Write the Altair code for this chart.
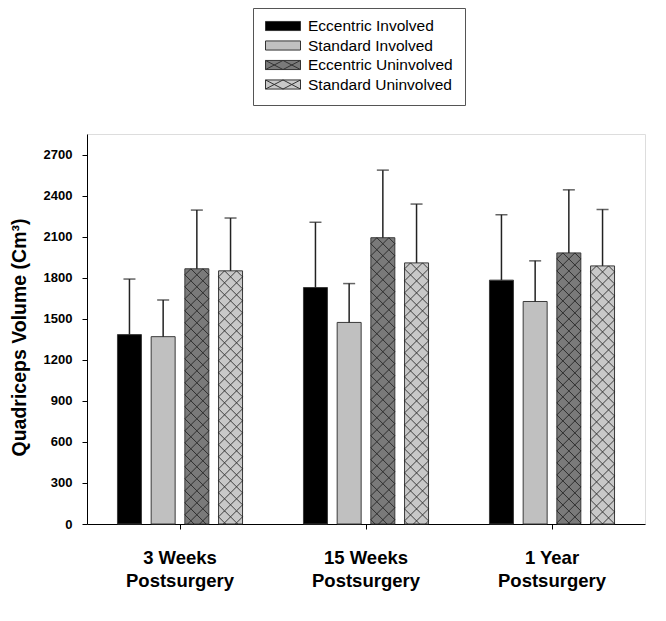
import altair as alt
import pandas as pd

# ---------------- data ----------------
groups = ["3 Weeks|Postsurgery", "15 Weeks|Postsurgery", "1 Year|Postsurgery"]
series = ["Eccentric Involved", "Standard Involved", "Eccentric Uninvolved", "Standard Uninvolved"]

eccentric_involved = [1384, 1728, 1782]
standard_involved = [1369, 1473, 1626]
eccentric_uninvolved = [1865, 2092, 1981]
standard_uninvolved = [1850, 1908, 1886]

eccentric_involved_sd = [406, 477, 478]
standard_involved_sd = [268, 284, 297]
eccentric_uninvolved_sd = [429, 494, 461]
standard_uninvolved_sd = [386, 430, 413]

y_ticks = [0, 300, 600, 900, 1200, 1500, 1800, 2100, 2400, 2700]
hatched = ["Eccentric Uninvolved", "Standard Uninvolved"]

# ---------------- styling ----------------
colors = ["#000000", "#c0c0c0", "#7a7a7a", "#c8c8c8"]
FONT = "Liberation Sans"
W, H = 558, 390
Y_MAX = 2850
TILE = 12  # hatch cell size in px

means = [eccentric_involved, standard_involved, eccentric_uninvolved, standard_uninvolved]
sds = [eccentric_involved_sd, standard_involved_sd, eccentric_uninvolved_sd, standard_uninvolved_sd]

rows = []
for s, m, e in zip(series, means, sds):
    for g, mv, ev in zip(groups, m, e):
        rows.append({"group": g, "series": s, "mean": mv, "hi": mv + ev})
df = pd.DataFrame(rows)

# hatch tiles derived from the bar heights (one row of two diamonds every TILE px)
upp = Y_MAX / H
tiles = []
for r in rows:
    if r["series"] not in hatched:
        continue
    top_px = r["mean"] / upp
    k = 0
    while True:
        c = top_px - TILE / 2 - TILE * k
        if c + TILE / 2 <= 0:
            break
        tiles.append({"group": r["group"], "series": r["series"], "yc": c * upp})
        k += 1
tiles_df = pd.DataFrame(tiles)

legend_df = pd.DataFrame({"series": series})

DIAMONDS = "M-1,0L-0.5,-0.5L0,0L-0.5,0.5Z M0,0L0.5,-0.5L1,0L0.5,0.5Z"
RECT = "M-1,-0.26H1V0.26H-1Z"
RECT_X = (RECT + " M-1,-0.26L0,0.26 M-1,0.26L0,-0.26 M0,-0.26L1,0.26 M0,0.26L1,-0.26")
shapes = [RECT, RECT, RECT_X, RECT_X]

x_enc = alt.X(
    "group:N", sort=groups,
    scale=alt.Scale(paddingInner=0, paddingOuter=0),
    axis=alt.Axis(
        title=None, labelExpr="split(datum.label, '|')", labelAngle=0,
        labelFont=FONT, labelFontWeight="bold", labelFontSize=18.5,
        labelLineHeight=23, labelPadding=19, labelColor="black",
        tickSize=5, tickColor="black", domainColor="black",
        labelBaseline="top",
    ),
)
xoff = alt.XOffset("series:N", sort=series,
                   scale=alt.Scale(domain=series, paddingInner=0.288, paddingOuter=0.904))
y_scale = alt.Scale(domain=[0, Y_MAX], nice=False, zero=True)
y_axis = alt.Axis(
    values=y_ticks, format="d", grid=False, title="Quadriceps Volume (Cm³)",
    titleFont=FONT, titleFontSize=19.5, titleFontWeight="bold", titleColor="black",
    titlePadding=14, titleY=203,
    labelFont=FONT, labelFontSize=13, labelFontWeight="bold", labelColor="black",
    labelPadding=10, tickSize=5, tickColor="black", domainColor="black",
)
color_scale = alt.Scale(domain=series, range=colors)

leg = dict(
    title=None, orient="none", legendX=166, legendY=-126,
    padding=12, strokeColor="#555555", fillColor="white",
    labelFont=FONT, labelFontSize=15.5, labelColor="black",
    symbolSize=1225, symbolOpacity=1, symbolStrokeWidth=1,
    clipHeight=12, rowPadding=3.5, labelOffset=7,
)

legend_layer = alt.Chart(legend_df).mark_point(
    filled=True, opacity=0, stroke="#333333", strokeWidth=1, size=1225
).encode(
    color=alt.Color("series:N", scale=color_scale, sort=series, legend=alt.Legend(**leg)),
    shape=alt.Shape("series:N", scale=alt.Scale(domain=series, range=shapes), sort=series,
                    legend=alt.Legend(**leg)),
)

bars = alt.Chart(df).mark_bar(stroke="#3a3a3a", strokeWidth=1).encode(
    x=x_enc, xOffset=xoff,
    y=alt.Y("mean:Q", scale=y_scale, axis=y_axis),
    color=alt.Color("series:N", scale=color_scale, legend=None),
)

hatch = alt.Chart(tiles_df).mark_point(
    shape=DIAMONDS, size=TILE * TILE * 4, filled=False, stroke="#1a1a1a",
    strokeWidth=0.8, opacity=1, clip=True
).encode(
    x=alt.X("group:N", sort=groups), xOffset=xoff,
    y=alt.Y("yc:Q", scale=y_scale),
)

err = alt.Chart(df).mark_rule(color="#222222", strokeWidth=1.5).encode(
    x=alt.X("group:N", sort=groups), xOffset=xoff,
    y=alt.Y("mean:Q", scale=y_scale), y2="hi:Q",
)
caps = alt.Chart(df).mark_tick(color="#222222", thickness=1.5, size=12, orient="horizontal").encode(
    x=alt.X("group:N", sort=groups), xOffset=xoff,
    y=alt.Y("hi:Q", scale=y_scale),
)

chart = alt.layer(legend_layer, bars, hatch, err, caps).properties(
    width=W, height=H,
    autosize=alt.AutoSizeParams(type="none"),
    padding={"left": 79, "top": 126, "right": 13, "bottom": 90},
).configure_view(stroke="black", strokeWidth=1).configure(background="white")

chart.save("out.html", embed_options={"renderer": "svg", "actions": False})
